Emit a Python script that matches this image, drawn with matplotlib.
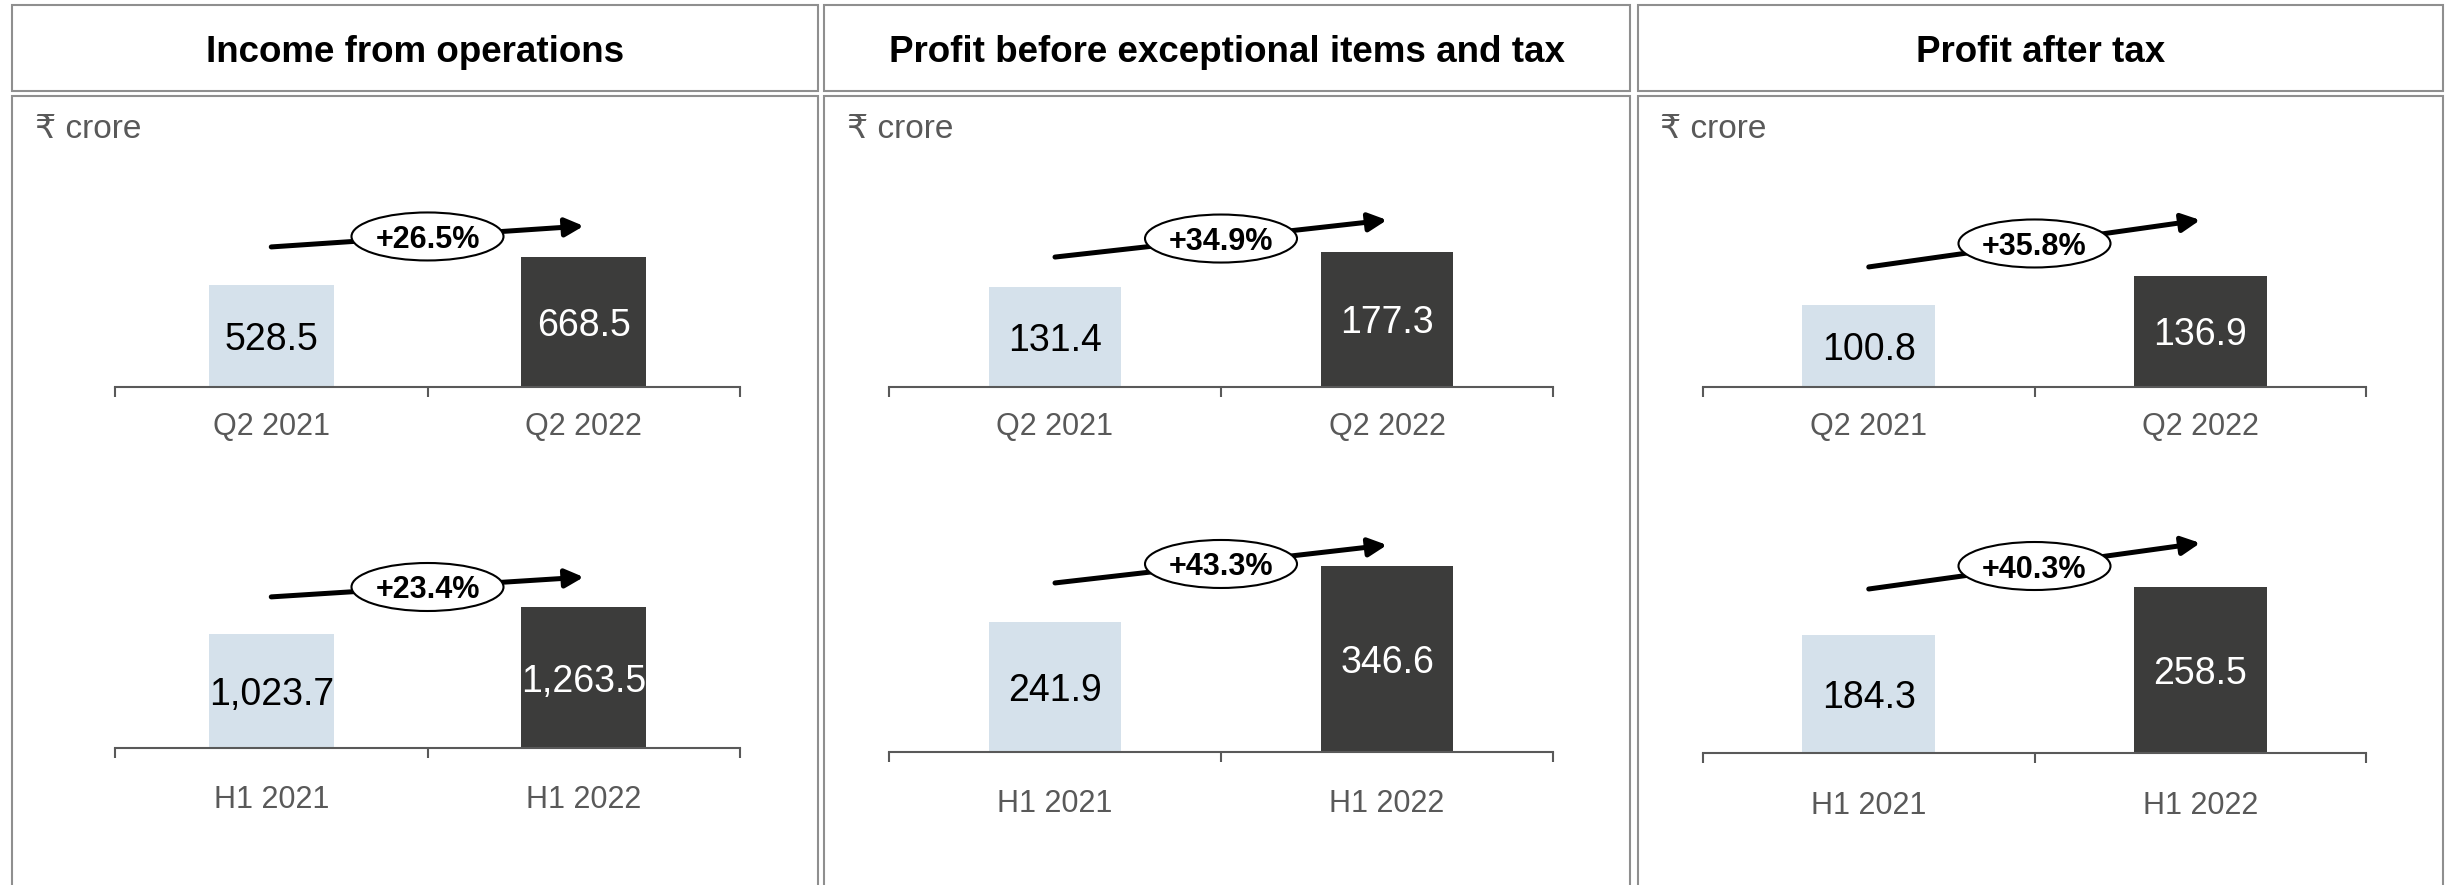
import matplotlib.pyplot as plt
from matplotlib.patches import Rectangle, Ellipse

plt.rcParams['font.family'] = ['Liberation Sans', 'DejaVu Sans']

# data
titles = ['Income from operations',
          'Profit before exceptional items and tax',
          'Profit after tax']
q_labels = ['Q2 2021', 'Q2 2022']
h_labels = ['H1 2021', 'H1 2022']
q_values = [[528.5, 668.5], [131.4, 177.3], [100.8, 136.9]]
h_values = [[1023.7, 1263.5], [241.9, 346.6], [184.3, 258.5]]
q_growth = ['+26.5%', '+34.9%', '+35.8%']
h_growth = ['+23.4%', '+43.3%', '+40.3%']
unit = '\u20b9 crore'

# layout (pixels of the 2448x885 picture)
W, H = 2448, 885
box_x = [(11.7, 817.5), (824, 1630), (1637.5, 2443)]
axis_x = [(115, 740), (889, 1553), (1703, 2366)]
axis_y = [(387, 748), (387, 752), (387, 753)]
ax_h = 230
ymax = [(1186, 2065), (302, 428), (283, 359)]
# arrow start / end heights above the axis line, as fraction of ax_h
arrow_y = [((0.609, 0.700), (0.657, 0.743)),
           ((0.565, 0.726), (0.735, 0.900)),
           ((0.522, 0.726), (0.713, 0.913))]
label_pad = (18, 27)

light = '#d5e1eb'
dark = '#3c3c3b'
grey = '#595959'
box_col = '#8f8f8f'

fig = plt.figure(figsize=(W / 100, H / 100), dpi=100)


def fx(x):
    return x / W


def fy(y):
    return 1 - y / H


for i in range(3):
    x0, x1 = box_x[i]
    fig.patches.append(Rectangle((fx(x0), fy(91)), fx(x1 - x0), (91 - 4.7) / H,
                                 transform=fig.transFigure, fill=False,
                                 ec=box_col, lw=1.5))
    fig.patches.append(Rectangle((fx(x0), fy(920)), fx(x1 - x0), (920 - 96) / H,
                                 transform=fig.transFigure, fill=False,
                                 ec=box_col, lw=1.5))
    fig.text(fx((x0 + x1) / 2), fy(62), titles[i], ha='center', va='baseline',
             fontsize=26.5, fontweight='bold', color='black')
    fig.text(fx(x0 + 23), fy(138), unit, ha='left', va='baseline',
             fontsize=24, color=grey)

    rows = [(q_labels, q_values[i], q_growth[i]),
            (h_labels, h_values[i], h_growth[i])]
    for r, (labels, vals, growth) in enumerate(rows):
        a0, a1 = axis_x[i]
        yb = axis_y[i][r]
        ax = fig.add_axes([fx(a0), fy(yb), fx(a1 - a0), ax_h / H])
        ax.set_facecolor('none')
        ax.bar([0, 1], vals, width=0.4, color=[light, dark], zorder=2)
        ax.set_xlim(-0.5, 1.5)
        ax.set_ylim(0, ymax[i][r])
        for s in ['left', 'right', 'top']:
            ax.spines[s].set_visible(False)
        ax.spines['bottom'].set_color(grey)
        ax.spines['bottom'].set_linewidth(1.5)
        ax.spines['bottom'].set_zorder(3)
        ax.set_yticks([])
        ax.set_xticks([0, 1])
        ax.set_xticklabels(labels)
        ax.set_xticks([-0.5, 0.5, 1.5], minor=True)
        ax.tick_params(axis='x', which='major', length=0, pad=label_pad[r],
                       labelsize=22, labelcolor=grey)
        ax.tick_params(axis='x', which='minor', length=7.5, width=1.5,
                       color=grey, direction='out')

        for k, v in enumerate(vals):
            ax.text(k, v / 2, f'{v:,.1f}', ha='center', va='center_baseline',
                    fontsize=27, color='black' if k == 0 else 'white', zorder=4)

        ys, ye = arrow_y[i][r]
        ax.annotate('', xy=(1, ye), xytext=(0, ys),
                    xycoords=ax.get_xaxis_transform(),
                    textcoords=ax.get_xaxis_transform(),
                    arrowprops=dict(arrowstyle='-|>,head_length=1.1,head_width=0.55',
                                    mutation_scale=10, lw=3.6, color='black',
                                    shrinkA=0, shrinkB=0),
                    annotation_clip=False, zorder=5)
        ym = (ys + ye) / 2
        ax.add_patch(Ellipse((0.5, ym), 152 / (a1 - a0), 48 / ax_h,
                             transform=ax.transAxes, fc='white', ec='black',
                             lw=1.5, zorder=6, clip_on=False))
        ax.text(0.5, ym, growth, transform=ax.transAxes, ha='center',
                va='center_baseline', fontsize=22, fontweight='bold',
                color='black', zorder=7)

fig.savefig('out.png', dpi=100)
